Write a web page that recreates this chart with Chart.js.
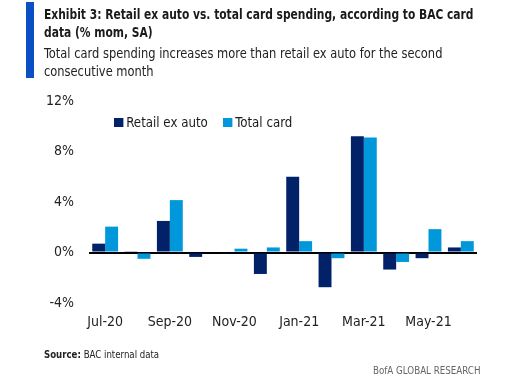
<!DOCTYPE html>
<html lang="en">
<head>
    <meta charset="UTF-8">
    <title>Retail ex auto vs. total card spending</title>
    <script src="https://cdn.jsdelivr.net/npm/chart.js"></script>
    <style>
        body {
            margin: 0;
            padding: 0;
            background: #ffffff;
            font-family: 'Liberation Sans Narrow', 'DejaVu Sans Condensed', 'Liberation Sans', sans-serif;
            color: #1a1a1a;
        }
        .page {
            position: relative;
            width: 507px;
            height: 380px;
            overflow: hidden;
        }
        canvas {
            position: absolute;
            left: 0;
            top: 0;
        }
        .stripe {
            position: absolute;
            left: 26px;
            top: 2px;
            width: 8px;
            height: 76px;
            background: #0a50c4;
        }
        /* the source text is narrow, so squeeze the text a little */
        .squeeze {
            position: absolute;
            white-space: nowrap;
            transform-origin: left top;
        }
        .title {
            left: 44px;
            top: 5px;
            font-size: 14px;
            line-height: 18px;
            font-weight: bold;
            color: #1a1a1a;
            transform: scaleX(0.85);
        }
        .subtitle {
            left: 44px;
            top: 44px;
            font-size: 14px;
            line-height: 18px;
            color: #222;
            transform: scaleX(0.91);
        }
        .legend {
            top: 114px;
            font-size: 14px;
            color: #1a1a1a;
            transform: scaleX(0.94);
        }
        .legend span.box {
            display: inline-block;
            width: 10px;
            height: 9px;
            margin-right: 3px;
            vertical-align: 0px;
        }
        .source {
            left: 44px;
            top: 348px;
            font-size: 11px;
            color: #222;
            transform: scaleX(0.87);
        }
        .brand {
            left: 373px;
            top: 364px;
            font-size: 11px;
            color: #666;
            transform: scaleX(0.88);
        }
    </style>
</head>
<body>
<div class="page">
    <canvas id="myChart" width="507" height="380"></canvas>
    <div class="stripe"></div>
    <div class="squeeze title">Exhibit 3: Retail ex auto vs. total card spending, according to BAC card<br>data (% mom, SA)</div>
    <div class="squeeze subtitle">Total card spending increases more than retail ex auto for the second<br>consecutive month</div>
    <div class="squeeze legend" style="left:114px"><span class="box" style="background:#012169"></span>Retail ex auto</div>
    <div class="squeeze legend" style="left:223px"><span class="box" style="background:#0098db"></span>Total card</div>
    <div class="squeeze source"><b>Source:</b> BAC internal data</div>
    <div class="squeeze brand">BofA GLOBAL RESEARCH</div>
</div>

<script>
    // Data
    const months = ['Jul-20', 'Aug-20', 'Sep-20', 'Oct-20', 'Nov-20', 'Dec-20',
                    'Jan-21', 'Feb-21', 'Mar-21', 'Apr-21', 'May-21', 'Jun-21'];
    const retailExAuto = [0.7, 0.1, 2.5, -0.35, -0.1, -1.7, 6.0, -2.75, 9.2, -1.35, -0.45, 0.4];
    const totalCard = [2.05, -0.5, 4.15, 0.08, 0.3, 0.4, 0.9, -0.45, 9.1, -0.75, 1.85, 0.9];
    const yTicks = [-4, 0, 4, 8, 12];

    const fontFamily = "'Liberation Sans Narrow', 'DejaVu Sans Condensed', 'Liberation Sans', sans-serif";
    Chart.defaults.font.family = fontFamily;

    const ctx = document.getElementById('myChart').getContext('2d');
    const myChart = new Chart(ctx, {
        type: 'bar',
        data: {
            labels: months,
            datasets: [
                {
                    label: 'Retail ex auto',
                    data: retailExAuto,
                    backgroundColor: '#012169',
                    categoryPercentage: 0.8,
                    barPercentage: 1.0
                },
                {
                    label: 'Total card',
                    data: totalCard,
                    backgroundColor: '#0098db',
                    categoryPercentage: 0.8,
                    barPercentage: 1.0
                }
            ]
        },
        options: {
            responsive: false,
            animation: false,
            devicePixelRatio: 1,
            layout: { padding: { left: 0, right: 30, top: 101, bottom: 37 } },
            plugins: {
                legend: { display: false },
                tooltip: { enabled: false }
            },
            scales: {
                x: {
                    grid: { display: false },
                    border: { display: false },
                    ticks: {
                        autoSkip: false,
                        maxRotation: 0,
                        padding: 3,
                        color: '#222',
                        font: { size: 14 },
                        callback: (v, i) => (i % 2 === 0 ? months[i] : '')
                    },
                    afterFit: (scale) => { scale.height = 40; }
                },
                y: {
                    min: -4,
                    max: 12,
                    afterBuildTicks: (scale) => { scale.ticks = yTicks.map(v => ({ value: v })); },
                    grid: {
                        drawTicks: false,
                        lineWidth: 2,
                        color: (c) => (c.tick && c.tick.value === 0 ? '#000000' : 'rgba(0,0,0,0)')
                    },
                    border: { display: false },
                    ticks: {
                        padding: 15,
                        color: '#222',
                        font: { size: 14 },
                        callback: (v) => v + '%'
                    },
                    afterFit: (scale) => { scale.width = 89; }
                }
            }
        }
    });
</script>
</body>
</html>
